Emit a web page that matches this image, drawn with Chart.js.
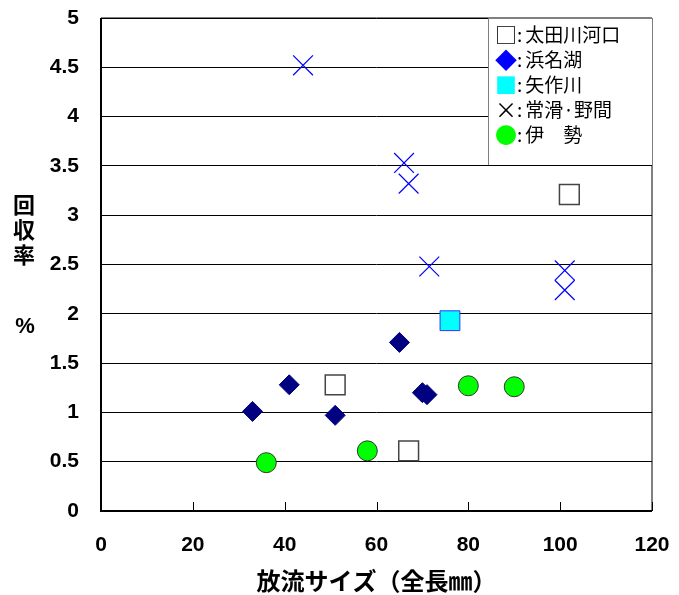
<!DOCTYPE html>
<html lang="ja">
<head>
<meta charset="utf-8">
<script src="https://cdn.jsdelivr.net/npm/chart.js@4/dist/chart.umd.min.js"></script>
<style>
  html, body { margin: 0; padding: 0; background: #fff; }
  #wrap { position: relative; width: 679px; height: 595px; }
  #legend {
    position: absolute; left: 488px; top: 18px; width: 164px; height: 147px;
    background: #fff; border-left: 1px solid #808080; border-top: 1px solid #808080;
    box-sizing: border-box; padding: 2px 0 0 6px;
    font-family: "Noto Sans CJK JP", sans-serif; font-size: 19px; line-height: 25px; color: #000;
  }
  #legend div { white-space: pre; height: 25px; }
  #legend b { font-weight: normal; font-size: 22px; line-height: 25px; display: inline-block; width: 19px; text-align: center; vertical-align: top; }
  #legend i { font-style: normal; margin: 0 3px 0 3px; }
</style>
</head>
<body>
<div id="wrap">
  <canvas id="chart" width="679" height="595"></canvas>
  <div id="legend">
    <div><b>□</b><i>:</i>太田川河口</div>
    <div><b style="color:#0000ff">◆</b><i>:</i>浜名湖</div>
    <div><b style="color:#00ffff">■</b><i>:</i>矢作川</div>
    <div><b>×</b><i>:</i>常滑·野間</div>
    <div><b style="color:#00ff00">●</b><i>:</i>伊　勢</div>
  </div>
</div>
<script>
(function () {
  "use strict";

  /* ---------- データ ---------- */
  const xTicks = [0, 20, 40, 60, 80, 100, 120];
  const yTicks = [0, 0.5, 1, 1.5, 2, 2.5, 3, 3.5, 4, 4.5, 5];

  const otaX  = [51, 67, 102];
  const otaY  = [1.28, 0.61, 3.21];
  const hamaX = [33, 41, 51, 65, 70, 71];
  const hamaY = [1.01, 1.28, 0.97, 1.71, 1.2, 1.18];
  const yahaX = [76];
  const yahaY = [1.93];
  const tokoX = [44, 66, 67, 71.5, 101, 101];
  const tokoY = [4.52, 3.53, 3.32, 2.48, 2.44, 2.24];
  const iseX  = [36, 58, 80, 90];
  const iseY  = [0.49, 0.61, 1.27, 1.26];

  const xTitle = "放流サイズ（全長㎜）";
  const yTitle = ["回", "収", "率"];
  const yUnit  = "%";

  const pts = (xs, ys) => xs.map((x, i) => ({ x: x, y: ys[i] }));

  const FONT = "'Liberation Sans', 'Noto Sans CJK JP', sans-serif";
  const JFONT = "'Noto Sans CJK JP', sans-serif";

  /* ---------- 枠・目盛り・Y軸タイトル ---------- */
  const framePlugin = {
    id: "frame",
    afterDraw(chart) {
      const ctx = chart.ctx;
      const a = chart.chartArea;
      const xs = chart.scales.x;
      ctx.save();
      ctx.strokeStyle = "#000";
      ctx.lineWidth = 1;
      ctx.beginPath();
      ctx.moveTo(a.left, a.top);
      ctx.lineTo(a.right, a.top);
      ctx.lineTo(a.right, a.bottom);
      ctx.stroke();
      // 内向きの目盛り
      xTicks.forEach(v => {
        const px = Math.round(xs.getPixelForValue(v)) + 0.5;
        ctx.beginPath();
        ctx.moveTo(px, a.bottom);
        ctx.lineTo(px, a.bottom - 9);
        ctx.stroke();
      });
      ctx.lineWidth = 2;
      ctx.beginPath();
      ctx.moveTo(a.left, a.top);
      ctx.lineTo(a.left, a.bottom);
      ctx.lineTo(a.right, a.bottom);
      ctx.stroke();
      // Y軸タイトル（縦書き）
      ctx.fillStyle = "#000";
      ctx.font = "bold 22px " + JFONT;
      ctx.textAlign = "center";
      ctx.textBaseline = "middle";
      yTitle.forEach((c, i) => ctx.fillText(c, 24, 205 + i * 25));
      ctx.font = "bold 22px " + FONT;
      ctx.fillText(yUnit, 25, 327);
      ctx.restore();
    }
  };

  new Chart(document.getElementById("chart"), {
    type: "scatter",
    data: {
      datasets: [
        {
          label: "伊勢", data: pts(iseX, iseY),
          pointStyle: "circle", pointRadius: 10, pointHoverRadius: 10,
          backgroundColor: "#00ff00", borderColor: "#333", borderWidth: 1,
        },
        {
          label: "浜名湖", data: pts(hamaX, hamaY),
          pointStyle: "rectRot", pointRadius: 10, pointHoverRadius: 10,
          backgroundColor: "#000080", borderColor: "#000080", borderWidth: 1,
        },
        {
          label: "太田川河口", data: pts(otaX, otaY),
          pointStyle: "rect", pointRadius: 14, pointHoverRadius: 14,
          backgroundColor: "#fff", borderColor: "#444", borderWidth: 1.5,
        },
        {
          label: "矢作川", data: pts(yahaX, yahaY),
          pointStyle: "rect", pointRadius: 14, pointHoverRadius: 14,
          backgroundColor: "#00ffff", borderColor: "#3333ff", borderWidth: 1,
        },
        {
          label: "常滑・野間", data: pts(tokoX, tokoY),
          pointStyle: "crossRot", pointRadius: 14, pointHoverRadius: 14,
          backgroundColor: "#0000ff", borderColor: "#0000ff", borderWidth: 1.2,
        },
      ],
    },
    options: {
      responsive: false,
      animation: false,
      layout: { padding: { top: 18, right: 27, left: 0, bottom: 0 } },
      plugins: { legend: { display: false }, tooltip: { enabled: false } },
      scales: {
        x: {
          type: "linear", min: 0, max: 120,
          afterBuildTicks: s => { s.ticks = xTicks.map(v => ({ value: v })); },
          afterFit: s => { s.height = 84; },
          grid: { display: true, drawOnChartArea: false, drawTicks: true, tickLength: 22, tickColor: "rgba(0,0,0,0)" },
          border: { display: false },
          ticks: {
            color: "#000", padding: 0, maxRotation: 0,
            font: { family: FONT, size: 21, weight: "bold" },
            callback: v => String(v),
          },
          title: {
            display: true, text: xTitle, color: "#000",
            font: { family: JFONT, size: 24, weight: "bold" },
            padding: { top: 0, bottom: 0 },
          },
        },
        y: {
          type: "linear", min: 0, max: 5,
          afterBuildTicks: s => { s.ticks = yTicks.map(v => ({ value: v })); },
          afterFit: s => { s.width = 101; },
          grid: { color: "#000", lineWidth: 1, drawTicks: true, tickLength: 22, tickColor: "rgba(0,0,0,0)" },
          border: { display: false },
          ticks: {
            color: "#000", padding: 0,
            font: { family: FONT, size: 21, weight: "bold" },
            callback: v => String(v),
          },
        },
      },
    },
    plugins: [framePlugin],
  });
})();
</script>
</body>
</html>
